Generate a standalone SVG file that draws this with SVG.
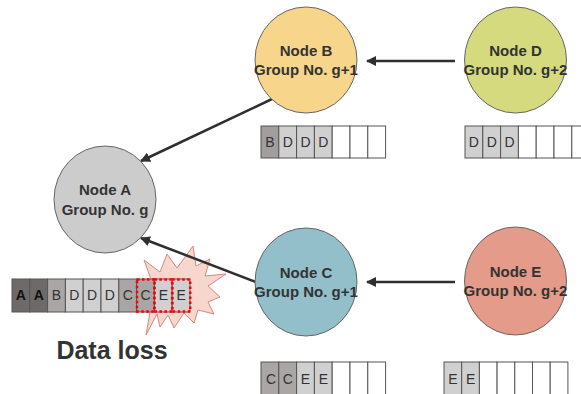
<svg xmlns="http://www.w3.org/2000/svg" width="581" height="394" viewBox="0 0 581 394">
  <defs>
    <marker id="arrow" viewBox="0 0 10 10" refX="9" refY="5" markerWidth="4" markerHeight="4" orient="auto" markerUnits="strokeWidth">
      <path d="M0,0 L10,5 L0,10 z" fill="#2f2f2f"/>
    </marker>
    <style>
      .node { stroke: #666; stroke-width: 1; }
      .ntxt { font-family: "Liberation Sans", Arial, sans-serif; font-weight: bold; font-size: 15px; fill: #333; text-anchor: middle; }
      .cell { stroke: #555; stroke-width: 1; }
      .dark { fill: #6e6a6a; }
      .mid { fill: #aaa6a5; }
      .light { fill: #d1d0d0; }
      .empty { fill: #fff; }
      .ctxt { font-family: "Liberation Sans", Arial, sans-serif; font-size: 14px; fill: #333; text-anchor: middle; }
      .ctxt.bold { font-weight: bold; fill: #111; }
      .edge { stroke: #2f2f2f; stroke-width: 2.5; fill: none; marker-end: url(#arrow); }
      .loss { fill: none; stroke: #ff0000; stroke-width: 2.5; stroke-dasharray: 2.5 2.5; }
    </style>
  </defs>

  <rect width="581" height="394" fill="#fff"/>

  <!-- starburst behind the lost entries -->
  <polygon points="144,260 160,272 167,254 177,268 193,246 196,266 210,259 205,276 226,274 208,286 220,297 208,302 214,314 198,310 194,323 184,313 174,328 168,315 160,327 157,314 146,335 150,312 134,311 150,298 134,290 152,282" fill="#f7d6cd" stroke="#d48a7b" stroke-width="1"/>

  <!-- connectors -->
  <g id="connectors">
    <line class="edge" x1="455" y1="61" x2="367" y2="61"/>
    <line class="edge" x1="455" y1="282" x2="367" y2="282"/>
    <line class="edge" x1="272" y1="99" x2="141" y2="161"/>
    <line class="edge" x1="256" y1="282" x2="141" y2="238"/>
  </g>

  <!-- nodes -->
  <g id="node-a">
    <ellipse class="node" cx="105" cy="199.5" rx="51" ry="53.5" fill="#cccccc"/>
    <text class="ntxt" x="105" y="195">Node A</text>
    <text class="ntxt" x="105" y="215">Group No. g</text>
  </g>
  <g id="node-b">
    <ellipse class="node" cx="306" cy="60" rx="51" ry="53" fill="#f7d58b"/>
    <text class="ntxt" x="306" y="56">Node B</text>
    <text class="ntxt" x="306" y="75">Group No. g+1</text>
  </g>
  <g id="node-c">
    <ellipse class="node" cx="306" cy="282" rx="51" ry="54" fill="#93bfcb"/>
    <text class="ntxt" x="306" y="278">Node C</text>
    <text class="ntxt" x="306" y="297">Group No. g+1</text>
  </g>
  <g id="node-d">
    <ellipse class="node" cx="515.5" cy="60" rx="51" ry="53" fill="#d5da7e"/>
    <text class="ntxt" x="515.5" y="56">Node D</text>
    <text class="ntxt" x="515.5" y="75">Group No. g+2</text>
  </g>
  <g id="node-e">
    <ellipse class="node" cx="515.5" cy="281" rx="51" ry="54" fill="#e49b89"/>
    <text class="ntxt" x="515.5" y="277">Node E</text>
    <text class="ntxt" x="515.5" y="296">Group No. g+2</text>
  </g>

  <!-- log of node A -->
  <g id="log-a">
    <rect class="cell dark" x="12" y="279" width="17.8" height="33"/>
    <rect class="cell dark" x="29.8" y="279" width="17.8" height="33"/>
    <rect class="cell mid" x="47.6" y="279" width="17.8" height="33"/>
    <rect class="cell light" x="65.4" y="279" width="17.8" height="33"/>
    <rect class="cell light" x="83.2" y="279" width="17.8" height="33"/>
    <rect class="cell light" x="101" y="279" width="17.8" height="33"/>
    <rect class="cell mid" x="118.8" y="279" width="17.8" height="33"/>
    <rect class="cell mid" x="136.6" y="279" width="17.8" height="33"/>
    <rect class="cell light" x="154.4" y="279" width="17.8" height="33"/>
    <rect class="cell light" x="172.2" y="279" width="17.8" height="33"/>
    <text class="ctxt bold" x="20.9" y="300">A</text>
    <text class="ctxt bold" x="38.7" y="300">A</text>
    <text class="ctxt" x="56.5" y="300">B</text>
    <text class="ctxt" x="74.3" y="300">D</text>
    <text class="ctxt" x="92.1" y="300">D</text>
    <text class="ctxt" x="109.9" y="300">D</text>
    <text class="ctxt" x="127.7" y="300">C</text>
    <text class="ctxt" x="145.5" y="300">C</text>
    <text class="ctxt" x="163.3" y="300">E</text>
    <text class="ctxt" x="181.1" y="300">E</text>
    <rect class="loss" x="137" y="279.5" width="17.4" height="32"/>
    <rect class="loss" x="154.4" y="279.5" width="17.8" height="32"/>
    <rect class="loss" x="172.2" y="279.5" width="18" height="32"/>
  </g>

  <!-- log of node B -->
  <g id="log-b">
    <rect class="cell" x="261" y="126" width="17.8" height="32" style="fill:#a29e9d"/>
    <rect class="cell light" x="278.8" y="126" width="17.8" height="32"/>
    <rect class="cell light" x="296.6" y="126" width="17.8" height="32"/>
    <rect class="cell light" x="314.4" y="126" width="17.8" height="32"/>
    <rect class="cell empty" x="332.2" y="126" width="17.8" height="32"/>
    <rect class="cell empty" x="350" y="126" width="17.8" height="32"/>
    <rect class="cell empty" x="367.8" y="126" width="17.8" height="32"/>
    <text class="ctxt" x="269.9" y="147">B</text>
    <text class="ctxt" x="287.7" y="147">D</text>
    <text class="ctxt" x="305.5" y="147">D</text>
    <text class="ctxt" x="323.3" y="147">D</text>
  </g>

  <!-- log of node D -->
  <g id="log-d">
    <rect class="cell light" x="465" y="126" width="17.8" height="32"/>
    <rect class="cell light" x="482.8" y="126" width="17.8" height="32"/>
    <rect class="cell light" x="500.6" y="126" width="17.8" height="32"/>
    <rect class="cell empty" x="518.4" y="126" width="17.8" height="32"/>
    <rect class="cell empty" x="536.2" y="126" width="17.8" height="32"/>
    <rect class="cell empty" x="554" y="126" width="17.8" height="32"/>
    <rect class="cell empty" x="571.8" y="126" width="17.8" height="32"/>
    <text class="ctxt" x="473.9" y="147">D</text>
    <text class="ctxt" x="491.7" y="147">D</text>
    <text class="ctxt" x="509.5" y="147">D</text>
  </g>

  <!-- log of node C -->
  <g id="log-c">
    <rect class="cell mid" x="261" y="362" width="17.8" height="40"/>
    <rect class="cell mid" x="278.8" y="362" width="17.8" height="40"/>
    <rect class="cell light" x="296.6" y="362" width="17.8" height="40"/>
    <rect class="cell light" x="314.4" y="362" width="17.8" height="40"/>
    <rect class="cell empty" x="332.2" y="362" width="17.8" height="40"/>
    <rect class="cell empty" x="350" y="362" width="17.8" height="40"/>
    <rect class="cell empty" x="367.8" y="362" width="17.8" height="40"/>
    <text class="ctxt" x="271" y="384">C</text>
    <text class="ctxt" x="287.7" y="384">C</text>
    <text class="ctxt" x="305.5" y="384">E</text>
    <text class="ctxt" x="323.3" y="384">E</text>
  </g>

  <!-- log of node E -->
  <g id="log-e">
    <rect class="cell light" x="444" y="362" width="17.7" height="40"/>
    <rect class="cell light" x="461.7" y="362" width="17.7" height="40"/>
    <rect class="cell empty" x="479.4" y="362" width="17.7" height="40"/>
    <rect class="cell empty" x="497.1" y="362" width="17.7" height="40"/>
    <rect class="cell empty" x="514.8" y="362" width="17.7" height="40"/>
    <rect class="cell empty" x="532.5" y="362" width="17.7" height="40"/>
    <rect class="cell empty" x="550.2" y="362" width="17.7" height="40"/>
    <text class="ctxt" x="452.9" y="384">E</text>
    <text class="ctxt" x="470.6" y="384">E</text>
  </g>

  <text x="112" y="359" font-family="'Liberation Sans', Arial, sans-serif" font-weight="bold" font-size="25" fill="#333" text-anchor="middle">Data loss</text>
</svg>
